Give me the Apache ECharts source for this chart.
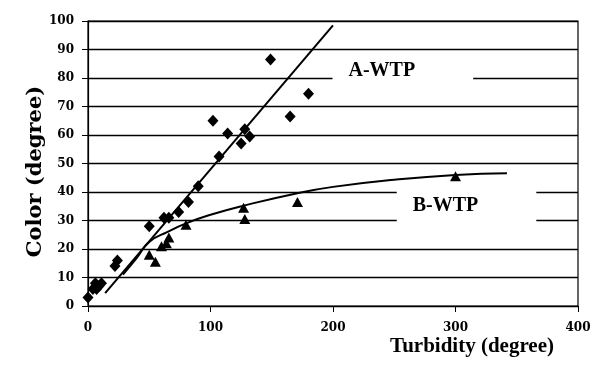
<!DOCTYPE html>
<html><head><meta charset="utf-8">
<script src="https://cdn.jsdelivr.net/npm/echarts@6/dist/echarts.min.js"></script>
<style>html,body{margin:0;padding:0;background:#fff}#c{width:606px;height:367px}</style>
</head><body><div id="c"></div>
<script>
// A-WTP observations (turbidity, color)
const aWtp = [[0,3],[4,6],[6,8],[7,6],[9,7],[11,8],[22,14],[24,16],[50,28],[62,31],[66,31],[74,33],[82,36.5],[90,42],
  [102,65],[107,52.5],[114,60.5],[125,57],[128,62],[132,59.5],[149,86.5],[165,66.5],[180,74.5]];
// B-WTP observations
const bWtp = [[50,18],[55,15.5],[60,21],[64,22],[66,24],[80,28.5],[127,34.5],[128,30.5],[171,36.5],[300,45.5]];
// trend lines
const aTrend = [[14,4.5],[200,98.5]];
const bTrend = [[28.5,11],[40,17],[50,22.5],[65,26],[80,29],[100,32],[128,35.3],[170,39.5],[200,41.8],[250,44.3],[300,46],[342,46.6]];
// text labels: [x, y, text]
const labels = [[257,82.5,'A-WTP'],[309,35.3,'B-WTP']];
const xTicks = {min:0,max:400,interval:100};
const yTicks = {min:0,max:100,interval:10};

const chart = echarts.init(document.getElementById('c'), null, {renderer:'canvas'});
const tickFont = {fontFamily:'DejaVu Serif',fontWeight:'bold',fontSize:12,color:'#000'};
chart.setOption({
  animation:false,
  grid:{left:88,right:28,top:21,bottom:61,show:true,borderColor:'#000',borderWidth:1.2},
  xAxis:{type:'value',min:xTicks.min,max:xTicks.max,interval:xTicks.interval,
    name:'Turbidity (degree)',nameLocation:'end',nameGap:-24,nameMoveOverlap:false,
    nameTextStyle:{fontFamily:'Liberation Serif',fontWeight:'bold',fontSize:21,color:'#000',align:'right',verticalAlign:'top',padding:[30,0,0,0]},
    axisLine:{show:true,lineStyle:{color:'#000',width:1.2}},
    axisTick:{show:true,length:6,inside:false,lineStyle:{color:'#000'}},
    axisLabel:Object.assign({margin:16},tickFont),
    splitLine:{show:false}},
  yAxis:{type:'value',min:yTicks.min,max:yTicks.max,interval:yTicks.interval,
    name:'Color (degree)',nameLocation:'middle',nameGap:42,nameMoveOverlap:false,
    nameTextStyle:{fontFamily:'DejaVu Serif',fontWeight:'bold',fontSize:21,color:'#000',padding:[0,16,0,0]},
    axisLine:{show:true,lineStyle:{color:'#000',width:1.2}},
    axisTick:{show:true,length:6,lineStyle:{color:'#000'}},
    axisLabel:Object.assign({margin:14},tickFont),
    splitLine:{show:true,lineStyle:{color:'#000',width:1.4}}},
  series:[
    {type:'scatter',data:labels.map(l=>({value:[l[0],l[1]],name:l[2]})),symbolSize:1,
      itemStyle:{color:'rgba(0,0,0,0)',opacity:1},silent:true,z:1,
      label:{show:true,position:'inside',formatter:p=>p.name,fontFamily:'Liberation Serif',fontWeight:'bold',fontSize:20,color:'#000',
        backgroundColor:'#fff',padding:[9,58,9,16]}},
    {type:'line',data:aTrend,showSymbol:false,lineStyle:{color:'#000',width:2},z:3},
    {type:'line',data:bTrend,smooth:true,showSymbol:false,lineStyle:{color:'#000',width:2},z:3},
    {type:'scatter',data:aWtp,symbol:'diamond',symbolSize:[11,12],itemStyle:{color:'#000',opacity:1},z:4},
    {type:'scatter',data:bWtp,symbol:'triangle',symbolSize:[11,10],itemStyle:{color:'#000',opacity:1},z:4}
  ]
});
</script></body></html>
